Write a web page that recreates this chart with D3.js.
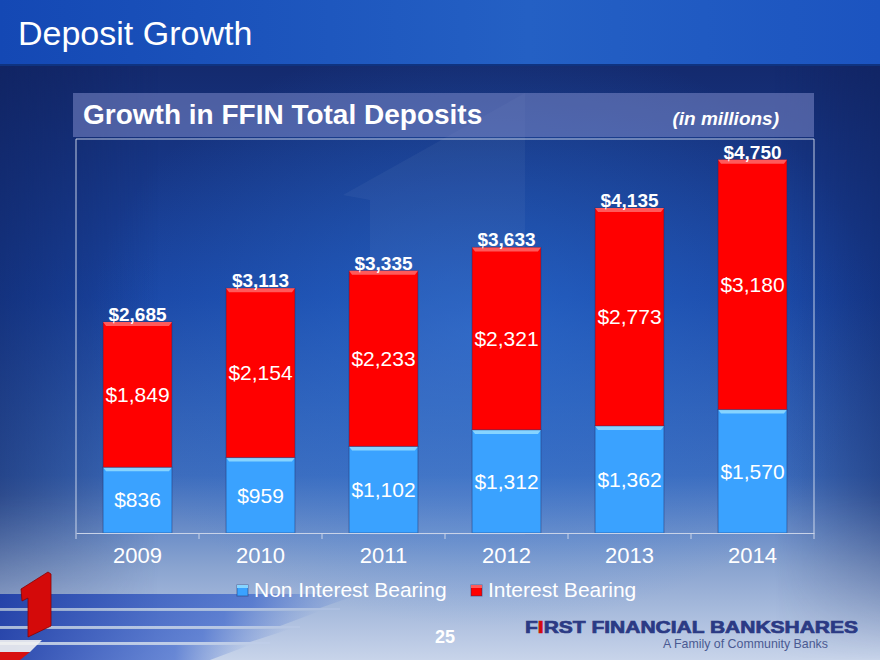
<!DOCTYPE html>
<html>
<head>
<meta charset="utf-8">
<script src="https://cdn.jsdelivr.net/npm/d3@7"></script>
<style>
  body { margin: 0; background: #13286c; }
  svg { display: block; font-family: "Liberation Sans", Arial, sans-serif; }
</style>
</head>
<body>
<div class="center"></div>
<script>
// chart data (in millions)
const years = ["2009", "2010", "2011", "2012", "2013", "2014"];
const nonInterest = [836, 959, 1102, 1312, 1362, 1570];
const interest = [1849, 2154, 2233, 2321, 2773, 3180];
const totals = [2685, 3113, 3335, 3633, 4135, 4750];
const seriesNames = ["Non Interest Bearing", "Interest Bearing"];

const W = 880, H = 660;
// plot area inside the panel
const plot = {left: 76, right: 814, top: 140, bottom: 533};

const svg = d3.select(".center").append("svg")
    .attr("width", W)
    .attr("height", H);

const defs = svg.append("defs");

// background gradients
const bg = defs.append("linearGradient").attr("id", "bg")
    .attr("x1", 0).attr("y1", 0).attr("x2", 0).attr("y2", 1);
bg.append("stop").attr("offset", "10%").attr("stop-color", "#142a6e");
bg.append("stop").attr("offset", "45%").attr("stop-color", "#1a46a4");
bg.append("stop").attr("offset", "72%").attr("stop-color", "#3d6cbc");
bg.append("stop").attr("offset", "86%").attr("stop-color", "#8aa4d0");
bg.append("stop").attr("offset", "100%").attr("stop-color", "#c8d4ea");

const glow = defs.append("radialGradient").attr("id", "glow")
    .attr("cx", "55%").attr("cy", "50%").attr("r", "45%");
glow.append("stop").attr("offset", "0%").attr("stop-color", "#2f7ae0").attr("stop-opacity", 0.5);
glow.append("stop").attr("offset", "100%").attr("stop-color", "#2f7ae0").attr("stop-opacity", 0);

const sideShade = defs.append("linearGradient").attr("id", "sideShade")
    .attr("x1", 0).attr("y1", 0).attr("x2", 1).attr("y2", 0);
sideShade.append("stop").attr("offset", "0%").attr("stop-color", "#0e1f5a").attr("stop-opacity", 0.5);
sideShade.append("stop").attr("offset", "18%").attr("stop-color", "#0e1f5a").attr("stop-opacity", 0);
sideShade.append("stop").attr("offset", "88%").attr("stop-color", "#0e1f5a").attr("stop-opacity", 0);
sideShade.append("stop").attr("offset", "100%").attr("stop-color", "#0e1f5a").attr("stop-opacity", 0.45);

const fadeDown = defs.append("linearGradient").attr("id", "fadeDown")
    .attr("x1", 0).attr("y1", 0).attr("x2", 0).attr("y2", 1);
fadeDown.append("stop").attr("offset", "0%").attr("stop-color", "white").attr("stop-opacity", 1);
fadeDown.append("stop").attr("offset", "75%").attr("stop-color", "white").attr("stop-opacity", 1);
fadeDown.append("stop").attr("offset", "100%").attr("stop-color", "white").attr("stop-opacity", 0);
defs.append("mask").attr("id", "fadeMask")
    .append("rect").attr("width", W).attr("height", H).attr("fill", "url(#fadeDown)");

const topBand = defs.append("linearGradient").attr("id", "topBand")
    .attr("x1", 0).attr("y1", 0).attr("x2", 1).attr("y2", 0);
topBand.append("stop").attr("offset", "0%").attr("stop-color", "#1448b4");
topBand.append("stop").attr("offset", "60%").attr("stop-color", "#2460c4");
topBand.append("stop").attr("offset", "100%").attr("stop-color", "#1c54c0");

const stripeGrad = defs.append("linearGradient").attr("id", "stripeGrad")
    .attr("x1", 0).attr("y1", 0).attr("x2", 1).attr("y2", 0);
stripeGrad.append("stop").attr("offset", "0%").attr("stop-color", "#1b3aa6").attr("stop-opacity", 0.9);
stripeGrad.append("stop").attr("offset", "70%").attr("stop-color", "#2a56c8").attr("stop-opacity", 0.6);
stripeGrad.append("stop").attr("offset", "100%").attr("stop-color", "#4a74d0").attr("stop-opacity", 0);

svg.append("rect").attr("width", W).attr("height", H).attr("fill", "url(#bg)");
svg.append("rect").attr("width", W).attr("height", H).attr("fill", "url(#glow)");
svg.append("rect").attr("y", 65).attr("width", W).attr("height", H - 65)
    .attr("fill", "url(#sideShade)")
    .attr("mask", "url(#fadeMask)");

// faint ghost "1" behind the chart
svg.append("polygon")
    .attr("points", "343,195 525,93 525,535 370,535 370,200")
    .attr("fill", "#ffffff")
    .attr("opacity", 0.045);

// title band
svg.append("rect").attr("width", W).attr("height", 65).attr("fill", "url(#topBand)");
svg.append("rect").attr("y", 64).attr("width", W).attr("height", 2).attr("fill", "#0f3380");
svg.append("text")
    .attr("x", 18)
    .attr("y", 45)
    .attr("fill", "#ffffff")
    .style("font-size", "34px")
    .text("Deposit Growth");

// bottom-left decoration (stripes + red "1")
const stripes = [
    [0, 594, 360, 14],
    [0, 611, 320, 15],
    [0, 629, 290, 13],
    [0, 645, 250, 15]
];
stripes.forEach(function(s) {
    svg.append("polygon")
        .attr("points", `${s[0]},${s[1]} ${s[0] + s[2]},${s[1]} ${s[0] + s[2] - 40},${s[1] + s[3]} ${s[0]},${s[1] + s[3]}`)
        .attr("fill", "url(#stripeGrad)");
    svg.append("line")
        .attr("x1", 0).attr("x2", s[2] - 20)
        .attr("y1", s[1] + s[3] + 1).attr("y2", s[1] + s[3] + 1)
        .attr("stroke", "#c8d6f0")
        .attr("stroke-opacity", 0.45);
});
svg.append("polygon")
    .attr("points", "0,640 42,640 30,652 0,652")
    .attr("fill", "#f2f2f2")
    .attr("opacity", 0.9);
svg.append("polygon")
    .attr("points", "0,652 30,652 20,660 0,660")
    .attr("fill", "#d81010");
svg.append("polygon")
    .attr("points", "21,589 48,572 51,574 51,626 28,637 28,598 22,601")
    .attr("fill", "#d40a0a")
    .attr("stroke", "#8a0000")
    .attr("stroke-width", 0.8);

// header bar
svg.append("rect")
    .attr("x", 73).attr("y", 93)
    .attr("width", 741).attr("height", 44)
    .attr("fill", "#7c88c8")
    .attr("opacity", 0.55);
svg.append("text")
    .attr("x", 83)
    .attr("y", 124)
    .attr("fill", "#ffffff")
    .style("font-size", "28px")
    .style("font-weight", "700")
    .text("Growth in FFIN Total Deposits");
svg.append("text")
    .attr("x", 779)
    .attr("y", 125)
    .attr("text-anchor", "end")
    .attr("fill", "#ffffff")
    .style("font-size", "19px")
    .style("font-weight", "700")
    .style("font-style", "italic")
    .text("(in millions)");

// panel frame
svg.append("path")
    .attr("d", `M${plot.left},${plot.bottom}V139H${plot.right}V${plot.bottom}`)
    .attr("fill", "none")
    .attr("stroke", "#dfe6f5")
    .attr("stroke-opacity", 0.85)
    .attr("stroke-width", 1);

// scales
const xScale = d3.scaleBand()
    .domain(years)
    .range([plot.left, plot.right])
    .paddingInner(0.44)
    .paddingOuter(0.22);
const yScale = d3.scaleLinear()
    .domain([0, 5000])
    .range([plot.bottom, plot.top]);

const rows = years.map(function(y, i) {
    return {year: y, nonInterest: nonInterest[i], interest: interest[i], total: totals[i]};
});
const stacked = d3.stack().keys(["nonInterest", "interest"])(rows);
const fills = {nonInterest: "#3aa2ff", interest: "#ff0000"};
const bevels = {nonInterest: "#86d4ff", interest: "#ff5a5a"};

// bars
const layer = svg.selectAll(".layer")
    .data(stacked)
    .enter().append("g")
    .attr("class", "layer");

layer.selectAll("rect.seg")
    .data(function(d) { return d.map(function(p) { return {key: d.key, p: p}; }); })
    .enter().append("rect")
    .attr("class", "seg")
    .attr("x", function(d) { return xScale(d.p.data.year); })
    .attr("y", function(d) { return yScale(d.p[1]); })
    .attr("width", xScale.bandwidth())
    .attr("height", function(d) { return yScale(d.p[0]) - yScale(d.p[1]); })
    .attr("fill", function(d) { return fills[d.key]; })
    .attr("stroke", "#1b2f6a")
    .attr("stroke-opacity", 0.45)
    .attr("stroke-width", 1);

// bevel strip on the top of each segment
layer.selectAll("polygon.bevel")
    .data(function(d) { return d.map(function(p) { return {key: d.key, p: p}; }); })
    .enter().append("polygon")
    .attr("class", "bevel")
    .attr("points", function(d) {
        const x0 = xScale(d.p.data.year), x1 = x0 + xScale.bandwidth(), y0 = yScale(d.p[1]);
        return `${x0},${y0} ${x1},${y0} ${x1 - 3},${y0 + 4} ${x0 + 3},${y0 + 4}`;
    })
    .attr("fill", function(d) { return bevels[d.key]; });

// values inside segments
layer.selectAll("text.val")
    .data(function(d) { return d.map(function(p) { return {key: d.key, p: p}; }); })
    .enter().append("text")
    .attr("class", "val")
    .attr("x", function(d) { return xScale(d.p.data.year) + xScale.bandwidth() / 2; })
    .attr("y", function(d) { return (yScale(d.p[0]) + yScale(d.p[1])) / 2; })
    .attr("dy", "0.35em")
    .attr("text-anchor", "middle")
    .attr("fill", "#ffffff")
    .style("font-size", "21px")
    .text(function(d) { return "$" + d3.format(",")(d.p[1] - d.p[0]); });

// totals above bars
svg.selectAll("text.total")
    .data(rows)
    .enter().append("text")
    .attr("class", "total")
    .attr("x", function(d) { return xScale(d.year) + xScale.bandwidth() / 2; })
    .attr("y", function(d) { return yScale(d.total) - 1; })
    .attr("text-anchor", "middle")
    .attr("fill", "#ffffff")
    .style("font-size", "19px")
    .style("font-weight", "700")
    .text(function(d) { return "$" + d3.format(",")(d.total); });

// x axis
const xAxis = d3.axisBottom(xScale).tickSize(0).tickPadding(14);
const gx = svg.append("g")
    .attr("transform", `translate(0,${plot.bottom})`)
    .call(xAxis);
gx.select(".domain").attr("stroke", "#c9d3e8");
gx.selectAll("text")
    .attr("fill", "#ffffff")
    .style("font-size", "22px")
    .style("font-family", "'Liberation Sans', Arial, sans-serif");

// tick marks between categories
const step = xScale.step();
svg.selectAll("line.sep")
    .data(d3.range(years.length + 1))
    .enter().append("line")
    .attr("class", "sep")
    .attr("x1", function(i) { return plot.left + i * step; })
    .attr("x2", function(i) { return plot.left + i * step; })
    .attr("y1", plot.bottom)
    .attr("y2", plot.bottom + 6)
    .attr("stroke", "#c9d3e8");

// legend
const legendX = [237, 471];
seriesNames.forEach(function(name, i) {
    const key = i === 0 ? "nonInterest" : "interest";
    svg.append("rect")
        .attr("x", legendX[i]).attr("y", 585)
        .attr("width", 11).attr("height", 11)
        .attr("fill", fills[key])
        .attr("stroke", "#1b2f6a")
        .attr("stroke-opacity", 0.5);
    svg.append("rect")
        .attr("x", legendX[i]).attr("y", 585)
        .attr("width", 11).attr("height", 3)
        .attr("fill", bevels[key]);
    svg.append("text")
        .attr("x", legendX[i] + 17)
        .attr("y", 597)
        .attr("fill", "#ffffff")
        .style("font-size", "21px")
        .text(name);
});

// footer
svg.append("text")
    .attr("x", 435)
    .attr("y", 643)
    .attr("fill", "#ffffff")
    .style("font-size", "18px")
    .style("font-weight", "700")
    .text("25");

const brand = svg.append("text")
    .attr("x", 525)
    .attr("y", 633)
    .attr("fill", "#2b3a84")
    .attr("stroke", "#2b3a84")
    .attr("stroke-width", 0.7)
    .attr("textLength", 333)
    .attr("lengthAdjust", "spacingAndGlyphs")
    .style("font-size", "17px")
    .style("font-weight", "700");
brand.append("tspan").text("F");
brand.append("tspan").attr("fill", "#d40a0a").attr("stroke", "#d40a0a").text("I");
brand.append("tspan").text("RST FINANCIAL BANKSHARES");

svg.append("text")
    .attr("x", 663)
    .attr("y", 648)
    .attr("fill", "#4a5a92")
    .attr("textLength", 165)
    .attr("lengthAdjust", "spacingAndGlyphs")
    .style("font-size", "13px")
    .text("A Family of Community Banks");
</script>
</body>
</html>
